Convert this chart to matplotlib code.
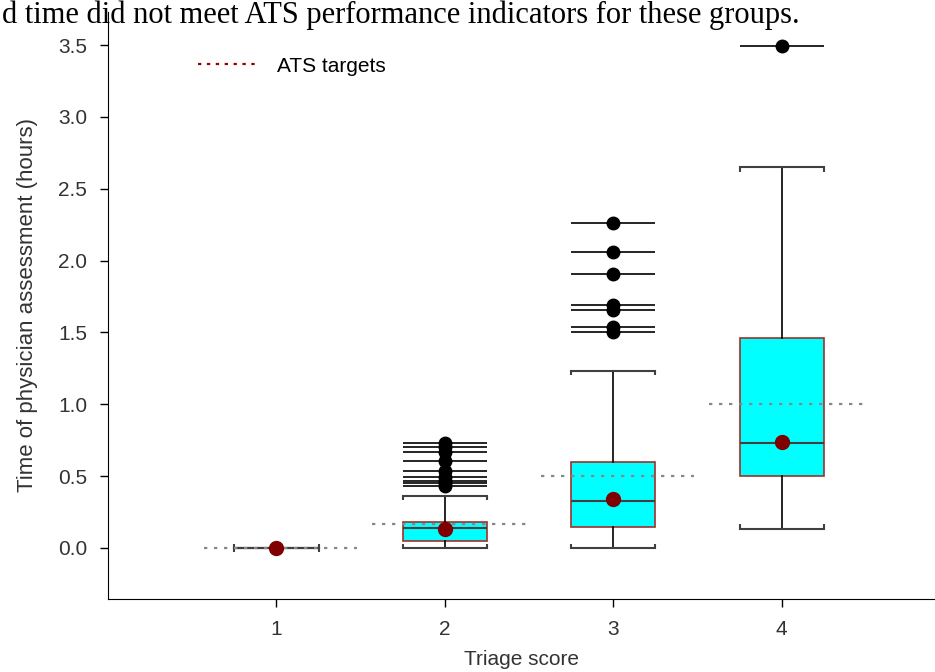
import matplotlib
matplotlib.use("Agg")
import matplotlib.pyplot as plt
from matplotlib.lines import Line2D

# Triage groups and box summary (hours)
groups = [1, 2, 3, 4]
q1 = [0.0, 0.05, 0.145, 0.50]
medians = [0.0, 0.137, 0.328, 0.73]
q3 = [0.0, 0.18, 0.598, 1.462]
whisk_lo = [0.0, 0.0, 0.0, 0.135]
whisk_hi = [0.0, 0.365, 1.234, 2.65]
means = [0.0, 0.13, 0.34, 0.739]
ats_targets = [0.0, 1 / 6, 0.5, 1.0]

outliers = [
    [],
    [0.732, 0.70, 0.667, 0.602, 0.537, 0.497, 0.465, 0.451, 0.432],
    [2.259, 2.06, 1.904, 1.69, 1.653, 1.539, 1.501],
    [3.49],
]

plt.rcParams["font.family"] = ["Liberation Sans", "DejaVu Sans"]

fig = plt.figure(figsize=(9.35, 6.72), dpi=100)
ax = fig.add_axes([108 / 935, 73 / 672, 1 - 108 / 935, (599 - 12) / 672])

# page text above the figure
fig.text(0.002, 1 - 23 / 672, "d time did not meet ATS performance indicators for these groups.",
         family="Liberation Serif", fontsize=22, va="baseline", ha="left")

stats = []
for i in range(len(groups)):
    stats.append({"med": medians[i], "q1": q1[i], "q3": q3[i],
                  "whislo": whisk_lo[i], "whishi": whisk_hi[i], "fliers": []})

ax.bxp(stats, positions=groups, widths=0.5, capwidths=0.5, patch_artist=True,
       showfliers=False,
       boxprops=dict(facecolor="#00ffff", edgecolor="#a0302a", linewidth=1.2),
       medianprops=dict(color="#404040", linewidth=1.5),
       whiskerprops=dict(color="black", linewidth=1.2),
       capprops=dict(color="#404040", linewidth=1.5))

# small bracket ends on the caps, pointing toward the box
tick = 0.03
for g, lo, hi in zip(groups, whisk_lo, whisk_hi):
    for x in (g - 0.25, g + 0.25):
        ax.vlines(x, lo, lo + tick, colors="#404040", linewidth=1.5)
        ax.vlines(x, hi - tick, hi, colors="#404040", linewidth=1.5)

# outliers drawn with a horizontal bar through each point
for g, pts in zip(groups, outliers):
    if not pts:
        continue
    ax.hlines(pts, g - 0.25, g + 0.25, colors="black", linewidth=1.2, zorder=3)
    ax.plot([g] * len(pts), pts, "o", color="black", markersize=9, zorder=4)

# ATS target lines
for g, t in zip(groups, ats_targets):
    ax.hlines(t, g - 0.43, g + 0.48, colors="#888888", linestyles=(0, (1.5, 3)),
              linewidth=1.6, zorder=5)

ax.plot(groups, means, "o", color="#800000", markersize=10, linestyle="none", zorder=6)

handle = Line2D([], [], color="#990000", linestyle=(0, (1.5, 2.5)), linewidth=1.6)
ax.legend([handle], ["ATS targets"], loc="center left", bbox_to_anchor=(0.109, 0.908),
          frameon=False, fontsize=15, handlelength=2.84, handletextpad=0.96,
          borderpad=0, borderaxespad=0)

ax.set_xlim(0, 4.91)
ax.set_ylim(-0.355, 3.73)
ax.set_xticks(groups)
ax.set_yticks([0.0, 0.5, 1.0, 1.5, 2.0, 2.5, 3.0, 3.5])
ax.set_yticklabels(["0.0", "0.5", "1.0", "1.5", "2.0", "2.5", "3.0", "3.5"])
ax.tick_params(axis="both", labelsize=15, labelcolor="#333333", length=6, width=1,
               direction="out", pad=9)
ax.spines["top"].set_visible(False)
ax.spines["right"].set_visible(False)
ax.set_xlabel("Triage score", fontsize=15, color="#333333", labelpad=8)
ax.set_ylabel("Time of physician assessment (hours)", fontsize=16, color="#333333",
              labelpad=14)

fig.savefig("out.png", dpi=100)
